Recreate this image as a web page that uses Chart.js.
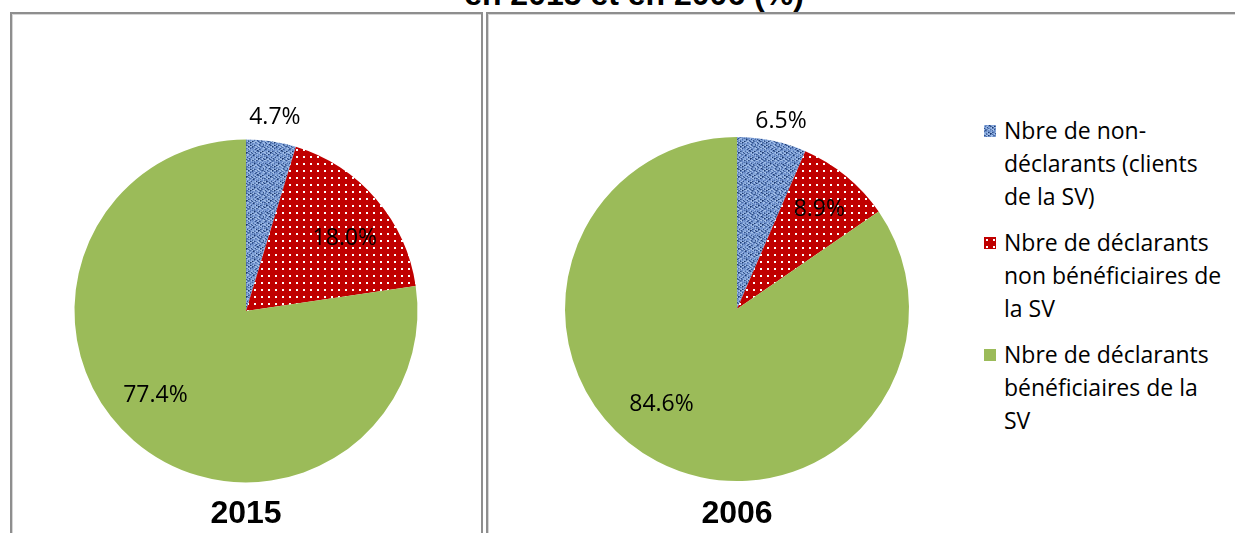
<!DOCTYPE html>
<html>
<head>
<meta charset="utf-8">
<script src="https://cdn.jsdelivr.net/npm/chart.js@4/dist/chart.umd.min.js"></script>
<style>
  html, body { margin:0; padding:0; background:#fff; }
  body { width:1235px; height:533px; overflow:hidden; position:relative; font-family:"Liberation Sans", Arial, sans-serif; }
  .panel { position:absolute; box-sizing:border-box; border:2px solid #8e8e8e; box-shadow: inset 1px 1px 0 #d6d6d6; }
  #p1 { left:10px; top:12px; width:473px; height:600px; }
  #p2 { left:486px; top:12px; width:800px; height:600px; }
  #title { position:absolute; left:0; width:1268px; top:-22px; text-align:center; font-weight:bold; font-size:32px; line-height:32px; color:#000; white-space:nowrap; }
  canvas { position:absolute; }
  #c1wrap { position:absolute; left:0; top:0; width:492px; height:533px; }
  #c2wrap { position:absolute; left:492px; top:0; width:490px; height:533px; }
  #legend { position:absolute; left:983px; top:114px; font-family:"Open Sans", sans-serif; font-size:23px; line-height:33px; color:#000; }
  .item { position:relative; padding-left:21px; margin-bottom:13px; white-space:nowrap; }
  .item canvas { position:absolute; left:1px; top:11px; width:12px; height:12px; }
</style>
</head>
<body>
<div id="title">en 2015 et en 2006 (%)</div>
<div class="panel" id="p1"></div>
<div class="panel" id="p2"></div>
<div id="c1wrap"><canvas id="c1"></canvas></div>
<div id="c2wrap"><canvas id="c2"></canvas></div>
<div id="legend"></div>
<script>
// ---- data ----
const categories = [
  ["Nbre de non-", "déclarants (clients", "de la SV)"],
  ["Nbre de déclarants", "non bénéficiaires de", "la SV"],
  ["Nbre de déclarants", "bénéficiaires de la", "SV"]
];
const years = ["2015", "2006"];
const values2015 = [4.7, 18.0, 77.4];
const values2006 = [6.5, 8.9, 84.6];

// ---- label placement (styling, not data) ----
const labelPlace = {
  "2015": { factor: [1.146, 0.719, 0.718], deltaDeg: [0, 4, 6.5] },
  "2006": { factor: [1.128, 0.754, 0.705], deltaDeg: [1.4, 0, 10.8] }
};

// ---- patterns ----
function bluePattern() {
  const s = 24, c = document.createElement('canvas');
  c.width = s; c.height = s;
  const g = c.getContext('2d');
  const shades = ['#a3bfe8', '#86a7da', '#6b8dc9', '#4d6fa8', '#33528b', '#1f3a6e'];
  for (let y = 0; y < s; y++) {
    for (let x = 0; x < s; x++) {
      const warp = ((x * 7 + ((y >> 1) * 5)) % 9);
      const weft = ((y * 11 + ((x >> 1) * 3)) % 7);
      let v = warp + weft;
      let k = v < 4 ? 0 : v < 7 ? 1 : v < 10 ? 2 : v < 12 ? 3 : v < 14 ? 4 : 5;
      if ((x + 2 * y) % 6 === 0) k = Math.min(5, k + 1);
      if ((3 * x + y) % 8 === 0) k = Math.max(0, k - 1);
      g.fillStyle = shades[k];
      g.fillRect(x, y, 1, 1);
    }
  }
  return c;
}
function redPattern() {
  const s = 7, c = document.createElement('canvas');
  c.width = s; c.height = s;
  const g = c.getContext('2d');
  g.fillStyle = '#c00000'; g.fillRect(0, 0, s, s);
  g.fillStyle = '#ffffff'; g.fillRect(2, 2, 2, 2);
  return c;
}
const tmpCtx = document.createElement('canvas').getContext('2d');
const blueTile = bluePattern(), redTile = redPattern();
const fills = [
  tmpCtx.createPattern(blueTile, 'repeat'),
  tmpCtx.createPattern(redTile, 'repeat'),
  '#9bbb59'
];

// ---- datalabel plugin ----
const pctLabels = {
  id: 'pctLabels',
  afterDatasetsDraw(chart) {
    const ctx = chart.ctx;
    const meta = chart.getDatasetMeta(0);
    const place = labelPlace[chart.options.plugins.title.text];
    const data = chart.data.datasets[0].data;
    ctx.save();
    ctx.font = '23px "Open Sans", sans-serif';
    ctx.fillStyle = '#000';
    ctx.textAlign = 'center';
    ctx.textBaseline = 'middle';
    meta.data.forEach((arc, i) => {
      const p = arc.getProps(['x', 'y', 'startAngle', 'endAngle', 'outerRadius'], true);
      const mid = (p.startAngle + p.endAngle) / 2 + place.deltaDeg[i] * Math.PI / 180;
      const d = p.outerRadius * place.factor[i];
      ctx.fillText(data[i].toFixed(1) + '%', p.x + d * Math.cos(mid), p.y + d * Math.sin(mid) + 1);
    });
    ctx.restore();
  }
};

function makePie(id, year, values, padTop, titlePadTop) {
  return new Chart(document.getElementById(id), {
    type: 'pie',
    data: {
      labels: categories,
      datasets: [{ data: values, backgroundColor: fills, borderWidth: 0, hoverOffset: 0, offset: 0 }]
    },
    options: {
      responsive: true,
      maintainAspectRatio: false,
      animation: false,
      events: [],
      layout: { padding: { top: padTop, bottom: 0, left: 0, right: 0 } },
      plugins: {
        legend: { display: false },
        tooltip: { enabled: false },
        title: {
          display: true, text: year, position: 'bottom', color: '#000',
          font: { family: '"Liberation Sans", Arial, sans-serif', size: 32, weight: 'bold', lineHeight: 1.2 },
          padding: { top: titlePadTop, bottom: 0 }
        }
      }
    },
    plugins: [pctLabels]
  });
}
makePie('c1', years[0], values2015, 139.4, 12.2);
makePie('c2', years[1], values2006, 137, 13.6);

// ---- legend (HTML) ----
const legend = document.getElementById('legend');
categories.forEach((lines, i) => {
  const div = document.createElement('div');
  div.className = 'item';
  const sw = document.createElement('canvas');
  sw.width = 12; sw.height = 12;
  const g = sw.getContext('2d');
  g.fillStyle = i === 2 ? fills[2] : g.createPattern(i === 0 ? blueTile : redTile, 'repeat');
  g.fillRect(0, 0, 12, 12);
  div.appendChild(sw);
  lines.forEach((t, j) => {
    if (j) div.appendChild(document.createElement('br'));
    div.appendChild(document.createTextNode(t));
  });
  legend.appendChild(div);
});
</script>
</body>
</html>
